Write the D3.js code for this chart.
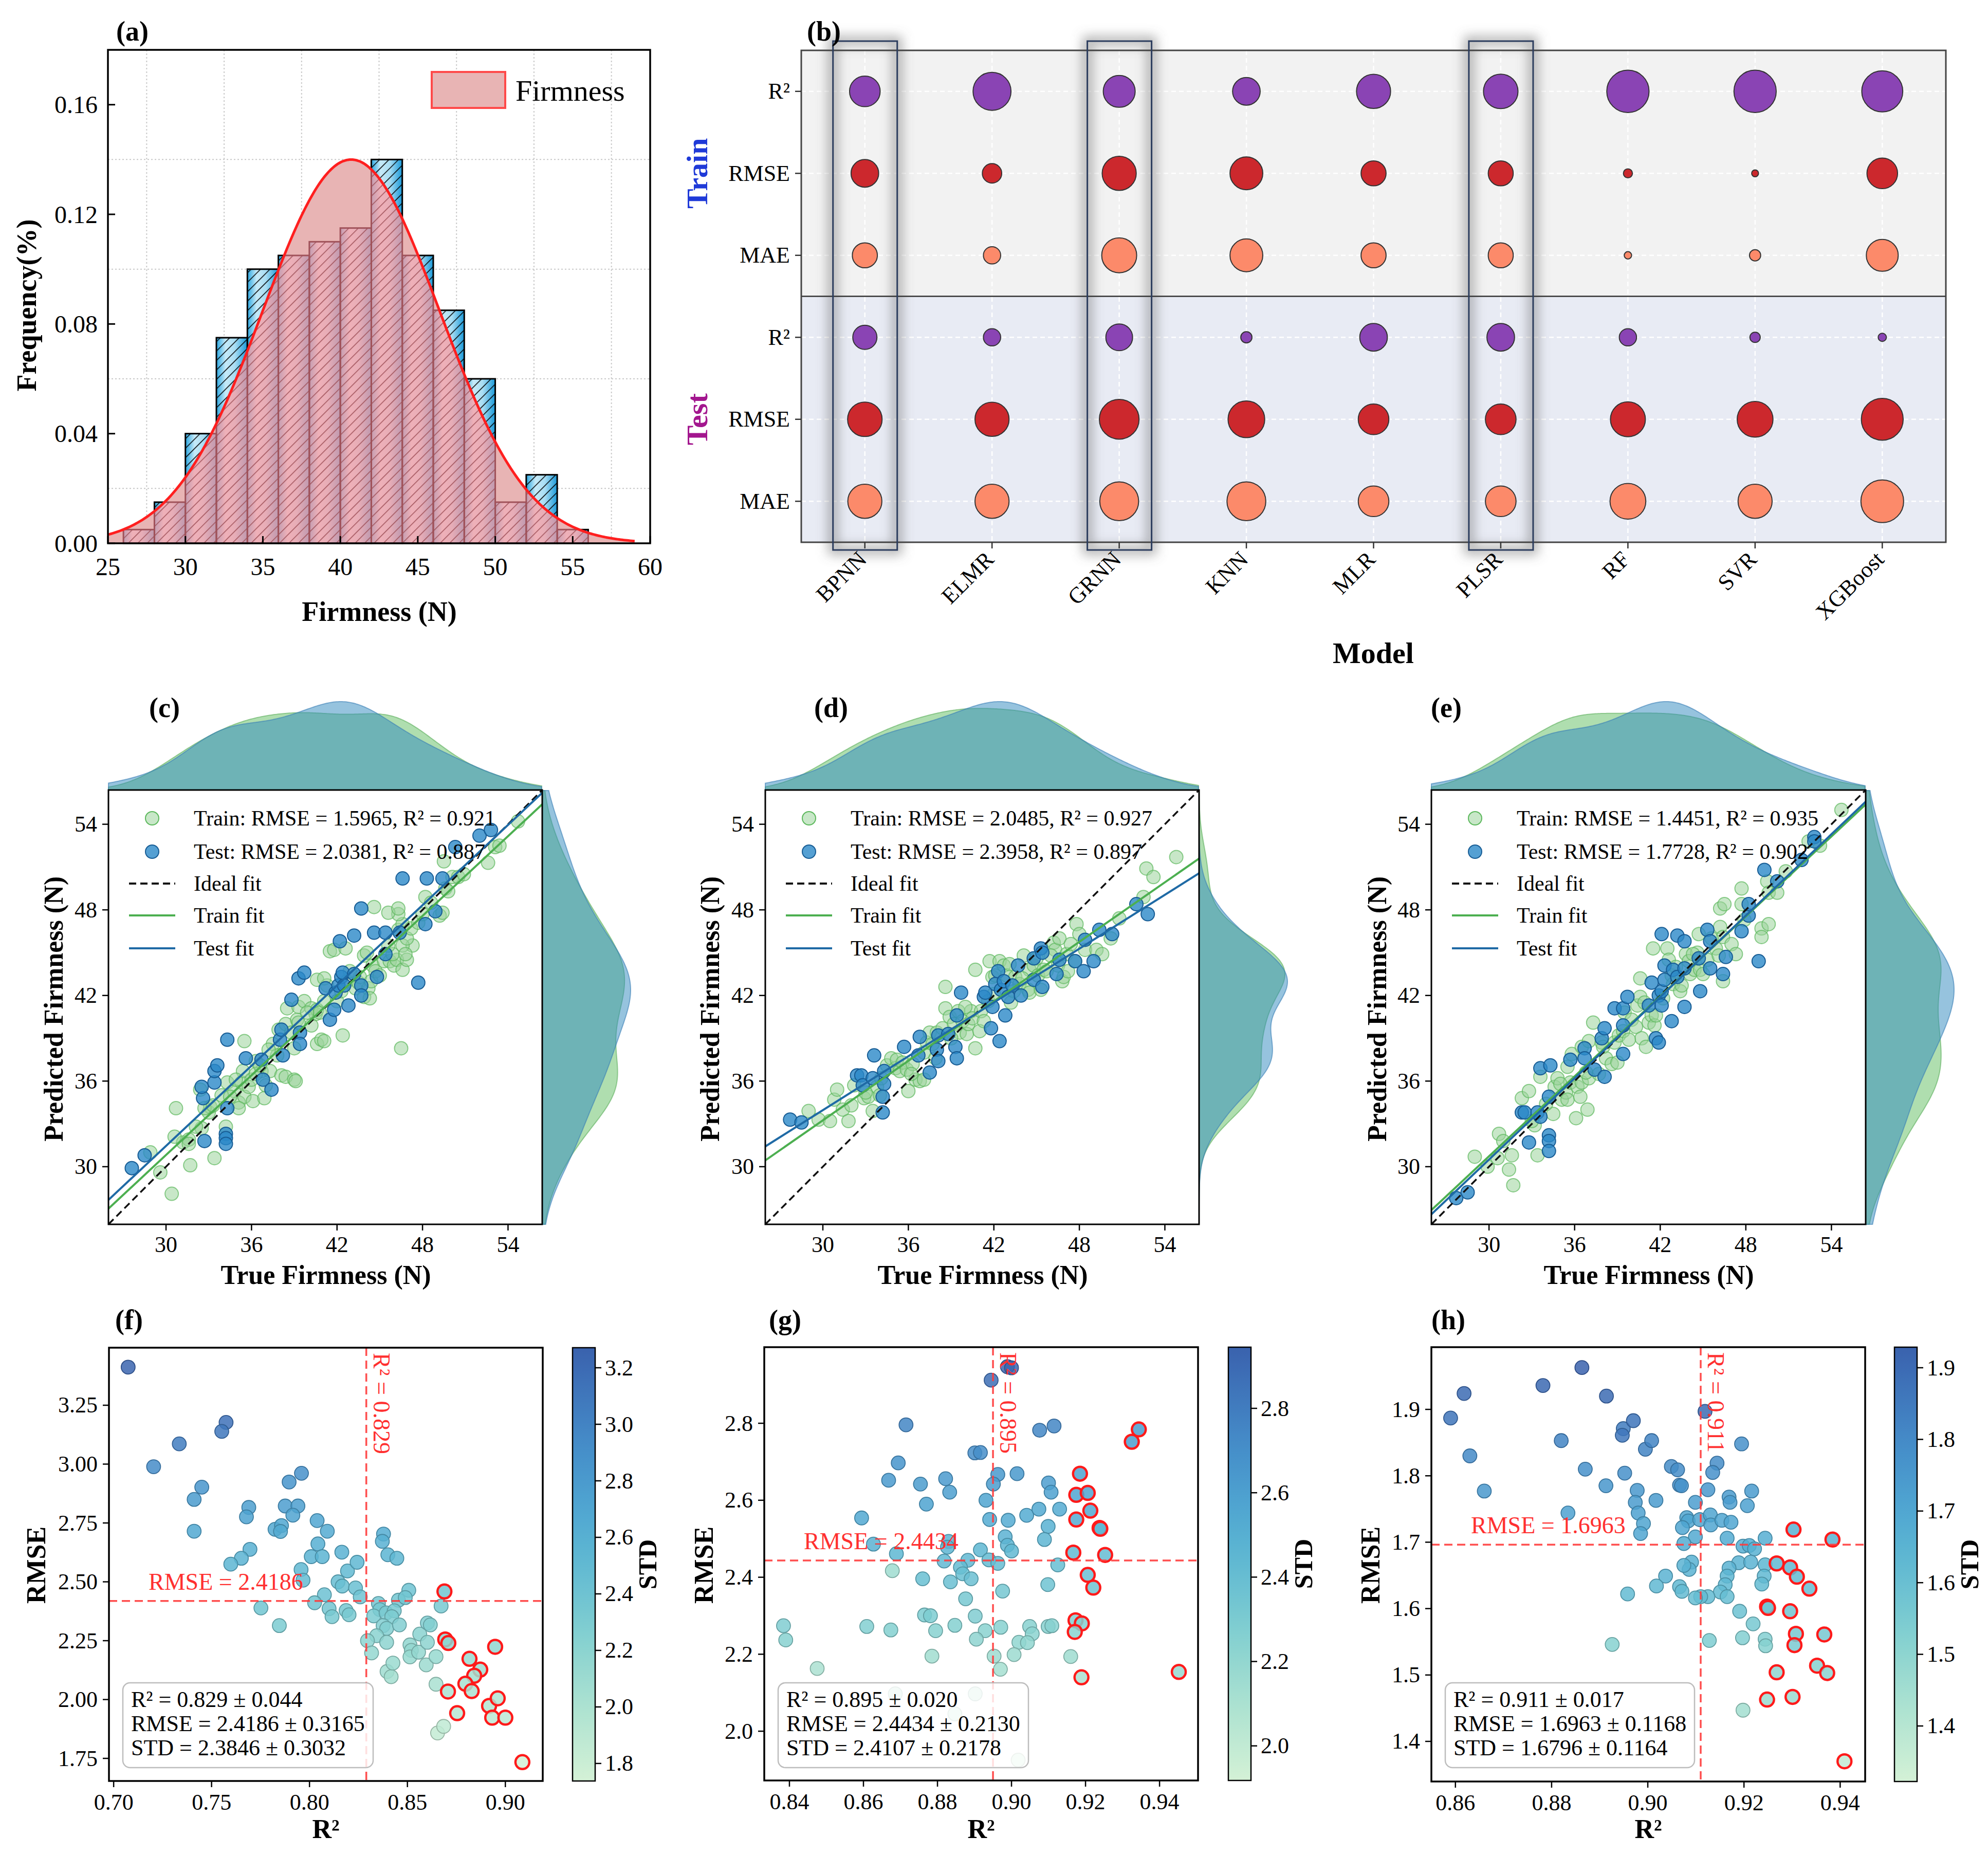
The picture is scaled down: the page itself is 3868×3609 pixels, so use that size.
<!DOCTYPE html>
<html><head><meta charset="utf-8">
<script src="https://cdn.jsdelivr.net/npm/d3@7"></script>
<style>body{margin:0;background:#fff}svg text{font-family:"Liberation Serif","Times New Roman",serif}</style>
</head><body>
<svg id="fig" width="3868" height="3609"></svg>
<script>
// ---------------- DATA ----------------
// (a) histogram
const histEdges = [26,28,30,32,34,36,38,40,42,44,46,48,50,52,54,56];
const histFreq = [0.005,0.015,0.04,0.075,0.10,0.105,0.11,0.115,0.14,0.105,0.085,0.06,0.015,0.025,0.005];
const histXTicks = [25,30,35,40,45,50,55,60];
const histYTicks = [0,0.04,0.08,0.12,0.16];
const histGridX = [27.5,32.5,37.5,42.5,47.5,52.5,57.5];
const histGridY = [0.02,0.06,0.10,0.14];
const normalFit = {mean:40.7, sd:5.7, binWidth:2};
const histLegend = "Firmness";

// (b) bubble matrix (relative bubble size 0-100)
const models = ["BPNN","ELMR","GRNN","KNN","MLR","PLSR","RF","SVR","XGBoost"];
const metricRows = ["Train R²","Train RMSE","Train MAE","Test R²","Test RMSE","Test MAE"];
const metricLabels = ["R²","RMSE","MAE","R²","RMSE","MAE"];
const trainR2Size   = [71,88,74,64,79,80,98,98,95];
const trainRMSESize = [64,45,79,76,58,58,21,16,71];
const trainMAESize  = [58,40,81,76,58,58,17,26,74];
const testR2Size    = [56,40,62,26,64,64,40,24,19];
const testRMSESize  = [80,79,92,85,71,71,81,83,97];
const testMAESize   = [79,79,90,90,71,71,83,79,99];
const highlightedModels = ["BPNN","GRNN","PLSR"];

// (c)(d)(e) true vs predicted
const jointTicks = [30,36,42,48,54];
const cTest = [[27.6,29.9],[28.5,30.8],[32.7,31.8],[32.6,34.8],[32.5,35.6],[33.4,35.9],[33.4,36.7],[33.6,37.1],[34.3,38.9],[34.3,34.1],[34.2,32.3],[34.2,32.0],[34.2,31.6],[35.6,37.6],[36.7,37.5],[36.8,36.1],[37.4,35.4],[38.2,37.8],[38.0,38.9],[38.1,39.6],[38.8,41.7],[39.3,43.2],[39.7,43.6],[39.4,39.4],[39.4,38.6],[41.5,40.3],[41.8,41.0],[41.2,42.5],[41.9,42.2],[42.1,42.7],[42.3,43.3],[42.5,42.7],[42.8,41.3],[42.4,43.6],[43.2,43.5],[43.7,42.7],[43.7,42.0],[43.2,46.2],[42.2,45.8],[43.7,48.1],[44.6,46.4],[44.8,43.3],[45.4,46.4],[45.4,44.9],[46.4,46.4],[46.6,50.2],[47.7,42.9],[48.2,47.0],[48.3,50.2],[48.9,47.9],[49.4,50.2],[50.3,52.4],[52.0,53.2],[52.8,53.6]];
const cTrain = [[30.4,28.1],[29.6,29.6],[28.9,31.0],[30.7,34.1],[31.7,30.1],[33.4,30.6],[31.2,31.7],[31.6,31.9],[32.5,32.7],[33.0,33.8],[32.4,35.4],[33.1,34.2],[34.2,32.8],[34.3,35.9],[34.8,35.3],[35.1,34.5],[35.5,34.9],[35.1,34.1],[35.3,35.9],[35.4,36.7],[35.5,38.8],[35.8,35.6],[36.1,34.6],[36.0,36.1],[36.3,37.4],[36.7,36.7],[36.9,34.8],[37.0,35.7],[37.3,36.7],[37.5,38.6],[37.8,37.8],[38.1,36.4],[38.4,36.3],[39.0,36.1],[39.1,36.0],[37.9,39.6],[38.4,40.0],[39.0,38.3],[38.8,39.4],[39.2,40.3],[38.5,41.1],[39.3,41.2],[39.7,41.6],[40.2,41.1],[40.5,40.7],[40.6,41.0],[40.8,40.8],[40.2,39.9],[40.6,38.6],[40.9,38.9],[41.1,38.8],[40.6,43.1],[41.3,42.7],[41.1,41.6],[42.0,41.6],[41.5,45.1],[41.8,45.2],[42.6,45.3],[42.4,39.2],[42.7,43.0],[43.3,42.5],[43.5,42.9],[43.6,43.3],[43.9,41.9],[44.2,42.5],[44.3,41.8],[44.4,43.0],[43.9,44.8],[44.1,45.0],[44.5,44.1],[44.7,43.7],[45.3,44.4],[45.7,44.4],[46.0,44.1],[46.2,44.5],[46.6,43.8],[46.9,44.5],[47.3,45.5],[46.6,45.5],[45.9,44.9],[46.3,46.6],[46.6,47.0],[46.9,46.0],[47.2,46.7],[46.3,47.7],[45.6,47.8],[44.6,48.2],[46.3,48.1],[46.5,38.3],[47.7,47.1],[48.0,47.7],[48.2,48.9],[48.6,48.5],[49.2,47.6],[49.4,47.8],[49.6,49.5],[49.8,49.3],[50.1,50.3],[50.5,50.3],[50.9,50.5],[49.5,51.4],[52.6,51.3],[53.1,52.4],[53.4,52.5],[54.7,54.2],[30.6,32.1],[31.6,31.6],[32.1,32.8],[32.7,34.1],[33.3,34.3],[33.9,35.0],[34.5,34.9],[34.9,36.1],[36.3,36.5],[36.6,37.1],[37.2,38.2],[39.3,40.1],[39.9,40.8],[42.9,43.7],[41.1,43.2],[42.3,42.3],[45.0,43.4],[45.6,45.5],[46.8,44.9]];
const cTrainFit = [0.931, 2.89];
const cTestFit = [0.9375, 3.33];
const cLegend = ["Train: RMSE = 1.5965, R² = 0.921","Test: RMSE = 2.0381, R² = 0.887","Ideal fit","Train fit","Test fit"];

const dTest = [[27.7,33.3],[28.5,33.1],[32.4,36.4],[32.7,36.4],[32.8,35.7],[33.5,36.2],[33.6,37.8],[34.3,36.7],[34.3,35.8],[34.2,34.9],[34.2,33.8],[35.7,38.4],[36.7,37.8],[36.8,39.1],[37.5,36.6],[38.0,38.2],[38.1,37.4],[38.1,39.2],[38.8,39.3],[39.3,38.4],[39.4,37.6],[39.4,40.6],[39.7,42.2],[41.3,41.9],[41.4,42.2],[41.8,39.7],[41.9,41.2],[42.1,42.8],[42.3,43.7],[42.4,38.8],[42.5,42.4],[42.7,43.0],[42.8,40.6],[43.0,41.9],[43.3,42.7],[43.7,44.1],[43.9,42.0],[44.8,44.6],[44.8,43.1],[45.3,45.3],[45.4,45.0],[45.4,42.6],[46.4,43.5],[46.6,44.5],[47.7,44.4],[48.3,43.7],[48.4,45.9],[49.0,44.4],[49.4,46.6],[50.3,46.3],[52.0,48.4],[52.8,47.7]];
const dTrain = [[29.0,33.9],[29.7,33.3],[30.5,33.2],[30.8,34.7],[31.0,35.4],[31.4,34.0],[31.8,33.2],[32.0,34.3],[32.2,35.7],[32.9,34.8],[33.2,34.9],[33.5,33.9],[33.8,35.6],[34.1,36.2],[34.5,37.1],[34.8,37.6],[35.1,36.9],[35.2,37.5],[35.4,36.7],[35.6,37.3],[35.9,36.8],[36.0,35.3],[36.3,37.2],[36.5,36.1],[36.8,36.0],[37.1,36.1],[37.1,38.0],[37.3,38.7],[37.5,39.4],[37.7,38.6],[38.0,39.4],[38.4,39.7],[38.6,42.6],[38.6,41.1],[38.9,40.5],[39.2,40.0],[39.5,40.9],[39.6,39.4],[39.8,40.2],[40.1,39.3],[40.2,40.0],[40.4,40.9],[40.5,40.4],[40.7,38.3],[40.7,43.8],[41.0,39.5],[41.1,40.9],[41.6,41.6],[41.7,44.4],[41.9,43.3],[42.1,43.4],[42.4,44.4],[42.7,44.1],[42.9,43.4],[43.1,44.2],[43.2,41.5],[43.5,43.3],[43.8,42.8],[44.1,44.8],[44.4,42.4],[44.5,43.8],[44.5,42.2],[44.8,44.1],[45.1,43.4],[45.3,42.4],[45.5,43.8],[45.7,43.7],[46.2,45.7],[46.3,45.2],[46.5,44.1],[46.6,46.0],[46.8,43.0],[46.9,43.3],[47.1,44.9],[47.2,43.7],[47.7,44.4],[47.8,47.0],[48.0,46.3],[48.4,45.2],[49.2,45.2],[49.6,44.9],[50.2,46.0],[50.8,47.4],[52.5,48.9],[52.7,50.9],[53.2,50.3],[54.8,51.7],[33.0,35.2],[34.0,35.0],[36.2,36.5],[37.9,37.6],[39.0,39.0],[40.0,41.2],[41.3,40.2],[42.0,42.1],[43.4,42.3],[44.0,43.2],[45.0,44.6],[46.0,44.8],[47.4,45.6]];
const dTrainFit = [0.695, 12.4];
const dTestFit = [0.629, 15.09];
const dLegend = ["Train: RMSE = 2.0485, R² = 0.927","Test: RMSE = 2.3958, R² = 0.897","Ideal fit","Train fit","Test fit"];

const eTest = [[27.7,27.8],[28.5,28.2],[32.3,33.8],[32.5,33.8],[32.8,31.7],[33.4,33.8],[33.6,33.5],[33.6,36.9],[34.3,37.1],[34.2,34.9],[34.2,32.2],[34.2,31.8],[34.2,31.1],[35.7,37.5],[36.7,38.3],[36.7,37.6],[37.4,36.8],[38.1,36.3],[37.9,39.0],[38.1,39.7],[38.8,41.1],[39.4,41.1],[39.4,39.9],[39.4,37.9],[39.7,41.9],[41.2,41.3],[41.4,42.9],[41.7,39.0],[41.9,38.7],[41.9,42.0],[42.1,42.3],[42.1,41.3],[42.3,43.1],[42.3,44.1],[42.8,40.2],[42.9,43.8],[43.2,43.3],[43.7,43.9],[43.7,41.2],[42.1,46.3],[43.2,46.2],[43.7,45.8],[44.7,44.6],[44.8,42.3],[45.3,46.6],[45.5,45.8],[45.5,43.9],[46.4,43.5],[46.6,44.7],[47.7,46.5],[48.2,47.6],[48.2,48.4],[48.9,44.4],[49.3,50.8],[50.2,50.0],[51.9,51.5],[52.8,53.1],[52.8,52.8]];
const eTrain = [[29.0,30.7],[29.9,30.0],[30.6,30.6],[30.7,32.3],[31.0,31.8],[31.4,29.8],[31.6,30.8],[31.7,28.7],[32.3,34.8],[32.8,35.3],[33.4,30.8],[33.2,32.9],[33.6,36.3],[34.5,33.7],[34.6,35.6],[34.8,36.2],[35.1,34.7],[35.4,35.2],[35.5,34.7],[35.5,37.0],[35.7,35.9],[35.8,37.9],[36.1,33.4],[36.2,35.6],[36.4,34.9],[36.5,38.4],[36.5,35.9],[36.9,34.0],[37.0,38.8],[37.0,36.2],[37.3,40.1],[37.7,36.5],[37.9,38.7],[38.2,37.6],[38.6,37.2],[38.8,38.7],[39.0,37.3],[39.1,39.2],[39.4,39.5],[39.5,40.8],[40.0,40.3],[40.3,39.8],[40.4,41.3],[40.6,41.9],[40.6,43.2],[40.7,39.0],[41.0,38.4],[41.2,40.1],[41.4,40.6],[41.6,39.9],[41.7,40.6],[41.5,45.3],[42.5,45.3],[42.6,44.5],[42.8,43.4],[42.9,42.8],[43.4,42.3],[43.5,42.7],[43.8,44.9],[44.0,44.4],[44.1,43.5],[44.4,43.8],[44.6,45.0],[44.7,46.3],[44.8,43.8],[45.0,43.5],[45.3,44.5],[45.9,45.3],[46.1,44.8],[46.2,46.8],[46.4,46.1],[46.4,43.0],[46.2,48.1],[46.5,48.4],[47.0,45.6],[47.3,44.9],[47.7,49.5],[47.7,48.4],[49.1,46.7],[49.1,46.1],[49.6,47.0],[49.5,50.0],[49.6,49.2],[50.2,49.2],[50.8,50.7],[52.4,52.8],[53.2,52.5],[54.7,55.0],[33.0,33.2],[34.0,34.4],[35.0,35.8],[36.8,36.6],[38.0,38.4],[39.8,38.9],[40.9,41.5],[42.2,41.8],[43.1,44.0],[44.3,44.9],[45.6,46.0],[47.9,47.3]];
const eTrainFit = [0.934, 2.71];
const eTestFit = [0.95, 2.0];
const eLegend = ["Train: RMSE = 1.4451, R² = 0.935","Test: RMSE = 1.7728, R² = 0.902","Ideal fit","Train fit","Test fit"];

// (f)(g)(h) repeated-split results: [R², RMSE, STD, highlighted]
const fRuns = [[0.7074,3.412,3.25,0],[0.7574,3.177,3.15,0],[0.7552,3.139,3.10,0],[0.7335,3.086,3.05,0],[0.7204,2.989,2.93,0],[0.7450,2.902,2.85,0],[0.7411,2.850,2.80,0],[0.7411,2.715,2.68,0],[0.7959,2.961,2.88,0],[0.7896,2.924,2.86,0],[0.7876,2.822,2.77,0],[0.7941,2.822,2.76,0],[0.7690,2.816,2.76,0],[0.7678,2.776,2.73,0],[0.7915,2.783,2.72,0],[0.7824,2.723,2.68,0],[0.7857,2.739,2.69,0],[0.7852,2.714,2.66,0],[0.8039,2.760,2.70,0],[0.8091,2.715,2.66,0],[0.7696,2.638,2.60,0],[0.7652,2.600,2.57,0],[0.7598,2.575,2.55,0],[0.8043,2.661,2.61,0],[0.8009,2.607,2.57,0],[0.8065,2.607,2.56,0],[0.7957,2.552,2.52,0],[0.7967,2.507,2.48,0],[0.8165,2.626,2.58,0],[0.8194,2.546,2.50,0],[0.8243,2.583,2.53,0],[0.8146,2.500,2.46,0],[0.8167,2.482,2.44,0],[0.8235,2.474,2.43,0],[0.8259,2.436,2.40,0],[0.8076,2.445,2.42,0],[0.8026,2.411,2.39,0],[0.7752,2.389,2.38,0],[0.7846,2.314,2.31,0],[0.8100,2.386,2.36,0],[0.8115,2.352,2.33,0],[0.8187,2.378,2.35,0],[0.8202,2.360,2.33,0],[0.8378,2.703,2.63,0],[0.8372,2.672,2.60,0],[0.8400,2.615,2.55,0],[0.8446,2.600,2.53,0],[0.8507,2.464,2.40,0],[0.8454,2.422,2.37,0],[0.8489,2.433,2.38,0],[0.8352,2.408,2.36,0],[0.8359,2.382,2.34,0],[0.8328,2.355,2.31,0],[0.8391,2.368,2.32,0],[0.8433,2.377,2.33,0],[0.8420,2.352,2.30,0],[0.8376,2.314,2.27,0],[0.8394,2.302,2.26,0],[0.8459,2.317,2.27,0],[0.8343,2.271,2.22,0],[0.8296,2.250,2.20,0],[0.8317,2.198,2.15,0],[0.8394,2.243,2.19,0],[0.8396,2.119,2.08,0],[0.8417,2.097,2.06,0],[0.8426,2.155,2.11,0],[0.8513,2.232,2.17,0],[0.8520,2.209,2.15,0],[0.8513,2.181,2.13,0],[0.8557,2.201,2.15,0],[0.8563,2.278,2.22,0],[0.8602,2.325,2.27,0],[0.8617,2.317,2.26,0],[0.8602,2.243,2.19,0],[0.8596,2.147,2.10,0],[0.8646,2.182,2.13,0],[0.8672,2.397,2.33,0],[0.8646,2.065,2.02,0],[0.8654,1.858,1.85,0],[0.8685,1.886,1.87,0],[0.8689,2.459,2.38,1],[0.8693,2.255,2.20,1],[0.8709,2.240,2.19,1],[0.8707,2.034,2.00,1],[0.8754,1.942,1.93,1],[0.8817,2.173,2.12,1],[0.8872,2.127,2.08,1],[0.8841,2.101,2.06,1],[0.8796,2.067,2.03,1],[0.8828,2.036,2.00,1],[0.8948,2.224,2.17,1],[0.8917,1.973,1.95,1],[0.8961,2.005,1.97,1],[0.8933,1.923,1.90,1],[0.9000,1.923,1.90,1],[0.9087,1.734,1.76,1]];
const gRuns = [[0.8945,2.912,2.88,0],[0.8989,2.947,2.92,0],[0.9000,2.944,2.93,0],[0.8715,2.796,2.75,0],[0.9076,2.782,2.74,0],[0.9115,2.793,2.75,0],[0.8694,2.697,2.67,0],[0.8668,2.652,2.63,0],[0.8754,2.642,2.62,0],[0.8770,2.590,2.58,0],[0.8822,2.656,2.63,0],[0.8833,2.621,2.60,0],[0.8901,2.723,2.70,0],[0.8916,2.724,2.70,0],[0.8963,2.667,2.64,0],[0.8951,2.642,2.62,0],[0.9015,2.669,2.64,0],[0.8931,2.600,2.57,0],[0.8941,2.550,2.53,0],[0.8991,2.548,2.52,0],[0.9041,2.561,2.53,0],[0.9074,2.577,2.54,0],[0.9100,2.645,2.61,0],[0.9107,2.621,2.59,0],[0.9130,2.577,2.52,0],[0.9099,2.532,2.49,0],[0.9089,2.498,2.46,0],[0.8595,2.554,2.55,0],[0.8627,2.486,2.48,0],[0.8689,2.461,2.45,0],[0.8830,2.493,2.47,0],[0.8827,2.478,2.46,0],[0.8916,2.471,2.45,0],[0.8983,2.505,2.48,0],[0.8989,2.483,2.46,0],[0.9000,2.468,2.44,0],[0.8818,2.442,2.43,0],[0.8882,2.444,2.43,0],[0.8939,2.445,2.42,0],[0.8963,2.436,2.41,0],[0.8862,2.426,2.41,0],[0.8868,2.409,2.39,0],[0.8891,2.396,2.38,0],[0.8835,2.388,2.38,0],[0.8760,2.396,2.39,0],[0.8678,2.417,2.15,0],[0.9125,2.432,2.40,0],[0.9098,2.381,2.36,0],[0.8976,2.364,2.33,0],[0.8876,2.344,2.32,0],[0.8765,2.302,2.29,0],[0.8781,2.300,2.29,0],[0.8902,2.299,2.28,0],[0.8384,2.274,2.28,0],[0.8390,2.237,2.25,0],[0.8609,2.272,2.27,0],[0.8674,2.263,2.26,0],[0.8795,2.261,2.25,0],[0.8847,2.275,2.26,0],[0.8929,2.261,2.24,0],[0.8905,2.239,2.22,0],[0.8971,2.270,2.25,0],[0.9049,2.272,2.25,0],[0.9056,2.253,2.23,0],[0.9020,2.231,2.21,0],[0.9043,2.230,2.21,0],[0.9099,2.272,2.25,0],[0.9109,2.274,2.25,0],[0.8475,2.163,2.10,0],[0.8785,2.195,2.14,0],[0.8953,2.195,2.15,0],[0.9007,2.199,2.16,0],[0.8970,2.161,2.12,0],[0.9160,2.194,2.15,0],[0.9344,2.784,2.62,1],[0.9325,2.752,2.60,1],[0.9185,2.669,2.58,1],[0.9175,2.614,2.56,1],[0.9206,2.619,2.57,1],[0.9213,2.573,2.54,1],[0.9175,2.550,2.52,1],[0.9238,2.528,2.46,1],[0.9240,2.526,2.45,1],[0.9167,2.464,2.42,1],[0.9253,2.458,2.41,1],[0.9206,2.406,2.38,1],[0.9221,2.373,2.35,1],[0.9173,2.288,2.27,1],[0.9190,2.280,2.26,1],[0.9171,2.258,2.24,1],[0.9189,2.140,2.10,1],[0.9452,2.154,2.18,1],[0.8686,2.097,2.05,0],[0.8902,2.097,2.06,0],[0.8847,2.045,2.02,0],[0.9018,1.925,1.95,0]];
const hRuns = [[0.8590,1.887,1.87,0],[0.8618,1.924,1.90,0],[0.8630,1.830,1.80,0],[0.8660,1.777,1.75,0],[0.8782,1.936,1.91,0],[0.8863,1.963,1.93,0],[0.8914,1.920,1.90,0],[0.8820,1.853,1.82,0],[0.8870,1.810,1.78,0],[0.8913,1.785,1.76,0],[0.8834,1.744,1.72,0],[0.8949,1.871,1.85,0],[0.8947,1.861,1.86,0],[0.8970,1.883,1.87,0],[0.8995,1.840,1.82,0],[0.9008,1.853,1.82,0],[0.8952,1.804,1.78,0],[0.8978,1.778,1.75,0],[0.8974,1.760,1.74,0],[0.8980,1.744,1.72,0],[0.8991,1.728,1.71,0],[0.8985,1.713,1.70,0],[0.9017,1.763,1.74,0],[0.9049,1.814,1.79,0],[0.9062,1.809,1.79,0],[0.9066,1.786,1.78,0],[0.9070,1.785,1.77,0],[0.9119,1.897,1.90,0],[0.9195,1.848,1.78,0],[0.9144,1.819,1.79,0],[0.9135,1.805,1.78,0],[0.9125,1.779,1.75,0],[0.9099,1.760,1.73,0],[0.9169,1.768,1.74,0],[0.9171,1.760,1.73,0],[0.9216,1.777,1.74,0],[0.9207,1.755,1.72,0],[0.9081,1.737,1.71,0],[0.9084,1.732,1.71,0],[0.9072,1.722,1.70,0],[0.9108,1.734,1.71,0],[0.9130,1.741,1.71,0],[0.9131,1.726,1.70,0],[0.9154,1.733,1.70,0],[0.9173,1.730,1.70,0],[0.9099,1.708,1.69,0],[0.9075,1.698,1.68,0],[0.9165,1.706,1.68,0],[0.9198,1.694,1.67,0],[0.9211,1.695,1.67,0],[0.9222,1.690,1.66,0],[0.9244,1.706,1.67,0],[0.9189,1.669,1.65,0],[0.9214,1.670,1.65,0],[0.9244,1.666,1.64,0],[0.9242,1.649,1.63,0],[0.9237,1.637,1.62,0],[0.9169,1.661,1.65,0],[0.9165,1.649,1.64,0],[0.9161,1.636,1.63,0],[0.9151,1.625,1.62,0],[0.9165,1.618,1.61,0],[0.9125,1.618,1.62,0],[0.9110,1.618,1.62,0],[0.9099,1.616,1.61,0],[0.9091,1.670,1.66,0],[0.9086,1.659,1.65,0],[0.9075,1.665,1.65,0],[0.9066,1.633,1.63,0],[0.9071,1.626,1.62,0],[0.9037,1.649,1.65,0],[0.9018,1.634,1.63,0],[0.8958,1.622,1.62,0],[0.9191,1.596,1.59,0],[0.9219,1.577,1.56,0],[0.9128,1.552,1.54,0],[0.9197,1.556,1.53,0],[0.9244,1.554,1.53,0],[0.9245,1.544,1.52,0],[0.8926,1.546,1.52,0],[0.9198,1.447,1.45,0],[0.9303,1.719,1.66,1],[0.9384,1.704,1.65,1],[0.9268,1.668,1.63,1],[0.9296,1.662,1.63,1],[0.9310,1.648,1.62,1],[0.9336,1.630,1.61,1],[0.9248,1.603,1.58,1],[0.9250,1.601,1.58,1],[0.9296,1.596,1.58,1],[0.9308,1.562,1.56,1],[0.9367,1.561,1.56,1],[0.9305,1.545,1.55,1],[0.9352,1.514,1.52,1],[0.9373,1.503,1.51,1],[0.9268,1.504,1.50,1],[0.9248,1.463,1.47,1],[0.9301,1.467,1.47,1],[0.9409,1.370,1.37,1]];
const fMeans = [0.829, 2.4186];
const gMeans = [0.895, 2.4434];
const hMeans = [0.911, 1.6963];
const fStats = ["R² = 0.829 ± 0.044","RMSE = 2.4186 ± 0.3165","STD = 2.3846 ± 0.3032"];
const gStats = ["R² = 0.895 ± 0.020","RMSE = 2.4434 ± 0.2130","STD = 2.4107 ± 0.2178"];
const hStats = ["R² = 0.911 ± 0.017","RMSE = 1.6963 ± 0.1168","STD = 1.6796 ± 0.1164"];
const fXTicks=[0.70,0.75,0.80,0.85,0.90], fYTicks=[1.75,2.00,2.25,2.50,2.75,3.00,3.25], fCbTicks=[1.8,2.0,2.2,2.4,2.6,2.8,3.0,3.2];
const gXTicks=[0.84,0.86,0.88,0.90,0.92,0.94], gYTicks=[2.0,2.2,2.4,2.6,2.8], gCbTicks=[2.0,2.2,2.4,2.6,2.8];
const hXTicks=[0.86,0.88,0.90,0.92,0.94], hYTicks=[1.4,1.5,1.6,1.7,1.8,1.9], hCbTicks=[1.4,1.5,1.6,1.7,1.8,1.9];

// ---------------- DRAW ----------------
const svg = d3.select("#fig");
svg.append("rect").attr("width",3868).attr("height",3609).attr("fill","#fff");
const defs = svg.append("defs");

function text(g, x, y, s, size, o={}) {
  const t = g.append("text").attr("x",x).attr("y",y).text(s).attr("font-size",size)
    .attr("fill",o.fill||"#000").attr("text-anchor",o.anchor||"start");
  if (o.bold) t.attr("font-weight","bold");
  if (o.db) t.attr("dominant-baseline",o.db);
  if (o.rot!==undefined) t.attr("transform",`rotate(${o.rot},${x},${y})`);
  return t;
}

// ===== (a) =====
(function(){
  const L={x0:210,x1:1265,y0:97,y1:1057};
  const x=d3.scaleLinear().domain([25,60]).range([L.x0,L.x1]);
  const y=d3.scaleLinear().domain([0,0.18]).range([L.y1,L.y0]);
  const g=svg.append("g");
  const grad=defs.append("linearGradient").attr("id","barGrad").attr("x1",0).attr("x2",1).attr("y1",0).attr("y2",0);
  [["0","#2aa6e0"],["0.3","#c6eaf8"],["0.6","#a8ddf3"],["1","#1898d8"]].forEach(([o,c])=>grad.append("stop").attr("offset",o).attr("stop-color",c));
  const mkHatch=(id,c)=>{const p=defs.append("pattern").attr("id",id).attr("patternUnits","userSpaceOnUse")
    .attr("width",13).attr("height",13).attr("patternTransform","rotate(45)");
    p.append("line").attr("x1",0).attr("y1",0).attr("x2",0).attr("y2",13).attr("stroke",c).attr("stroke-width",3);};
  mkHatch("hatchA","#000"); mkHatch("hatchB","#a0525a");
  g.append("g").selectAll("line").data(histGridX).join("line")
    .attr("x1",d=>x(d)).attr("x2",d=>x(d)).attr("y1",L.y0).attr("y2",L.y1)
    .attr("stroke","#c8c8c8").attr("stroke-width",2).attr("stroke-dasharray","3,4");
  g.append("g").selectAll("line").data(histGridY).join("line")
    .attr("y1",d=>y(d)).attr("y2",d=>y(d)).attr("x1",L.x0).attr("x2",L.x1)
    .attr("stroke","#c8c8c8").attr("stroke-width",2).attr("stroke-dasharray","3,4");
  const bx=(d,i)=>x(histEdges[i]), bw=(d,i)=>x(histEdges[i+1])-x(histEdges[i]);
  const drawBars=(sel,cls,fill)=>sel.selectAll("rect."+cls).data(histFreq).join("rect").attr("class",cls)
    .attr("x",bx).attr("width",bw).attr("y",d=>y(d)).attr("height",d=>y(0)-y(d)).attr("fill",fill);
  const bars=g.append("g");
  drawBars(bars,"f","url(#barGrad)");
  drawBars(bars,"h","url(#hatchA)").attr("stroke","#000").attr("stroke-width",3);
  const pdf=v=>normalFit.binWidth*Math.exp(-0.5*((v-normalFit.mean)/normalFit.sd)**2)/(normalFit.sd*Math.sqrt(2*Math.PI));
  const xs=d3.range(25,59.01,0.1);
  const areaGen=d3.area().x(d=>x(d)).y0(y(0)).y1(d=>y(pdf(d)));
  defs.append("clipPath").attr("id","curveClip").append("path").datum(xs).attr("d",areaGen);
  const ov=g.append("g").attr("clip-path","url(#curveClip)");
  ov.append("path").datum(xs).attr("d",areaGen).attr("fill","#e8b4b4");
  drawBars(ov,"f2","url(#barGrad)");
  drawBars(ov,"p2","#ff9aa0").attr("fill-opacity",0.72);
  drawBars(ov,"h2","url(#hatchB)").attr("stroke","#a0525a").attr("stroke-width",3);
  g.append("path").datum(xs).attr("d",d3.line().x(d=>x(d)).y(d=>y(pdf(d))))
    .attr("fill","none").attr("stroke","#ff1f1f").attr("stroke-width",5);
  g.append("rect").attr("x",L.x0).attr("y",L.y0).attr("width",L.x1-L.x0).attr("height",L.y1-L.y0)
    .attr("fill","none").attr("stroke","#000").attr("stroke-width",3.5);
  histXTicks.forEach(v=>{
    g.append("line").attr("x1",x(v)).attr("x2",x(v)).attr("y1",L.y1).attr("y2",L.y1-14).attr("stroke","#000").attr("stroke-width",3);
    text(g,x(v),L.y1+62,v,48,{anchor:"middle"});
  });
  histYTicks.forEach(v=>{
    g.append("line").attr("x1",L.x0).attr("x2",L.x0+14).attr("y1",y(v)).attr("y2",y(v)).attr("stroke","#000").attr("stroke-width",3);
    text(g,L.x0-20,y(v),v.toFixed(2),48,{anchor:"end",db:"central"});
  });
  g.append("rect").attr("x",840).attr("y",140).attr("width",143).attr("height",70)
    .attr("fill","#e8b4b4").attr("stroke","#ff4a4a").attr("stroke-width",4);
  text(g,1003,196,histLegend,58);
  text(g,738,1208,"Firmness (N)",54,{anchor:"middle",bold:true});
  text(g,52,594,"Frequency(%)",54,{anchor:"middle",bold:true,db:"central",rot:-90});
  text(g,226,79,"(a)",54,{bold:true});
})();

// ===== (b) =====
(function(){
  const L={x0:1559,x1:3786,y0:98,y1:1055};
  const x=d3.scaleBand().domain(models).range([L.x0,L.x1]);
  const y=d3.scaleBand().domain(metricRows).range([L.y0,L.y1]);
  const cx=m=>x(m)+x.bandwidth()/2, cy=r=>y(r)+y.bandwidth()/2;
  const rS=d3.scaleLinear().domain([0,100]).range([0,42]);
  const g=svg.append("g");
  const fil=defs.append("filter").attr("id","glowB").attr("x","-60%").attr("y","-20%").attr("width","220%").attr("height","140%");
  fil.append("feGaussianBlur").attr("stdDeviation",11);
  g.append("rect").attr("x",L.x0).attr("y",L.y0).attr("width",L.x1-L.x0).attr("height",y.bandwidth()*3).attr("fill","#f2f2f2");
  g.append("rect").attr("x",L.x0).attr("y",y("Test R²")).attr("width",L.x1-L.x0).attr("height",y.bandwidth()*3).attr("fill","#e8ebf4");
  g.append("g").selectAll("line").data(metricRows).join("line")
    .attr("x1",L.x0).attr("x2",L.x1).attr("y1",d=>cy(d)).attr("y2",d=>cy(d))
    .attr("stroke","#fff").attr("stroke-width",2.5).attr("stroke-dasharray","9,6");
  g.append("g").selectAll("line").data(models).join("line")
    .attr("x1",d=>cx(d)).attr("x2",d=>cx(d)).attr("y1",L.y0).attr("y2",L.y1)
    .attr("stroke","#fff").attr("stroke-width",2.5).attr("stroke-dasharray","9,6");
  g.append("g").selectAll("rect").data(highlightedModels).join("rect")
    .attr("x",d=>cx(d)-62).attr("y",80).attr("width",125).attr("height",990)
    .attr("fill","none").attr("stroke","#6a6a6a").attr("stroke-opacity",0.55).attr("stroke-width",18).attr("filter","url(#glowB)");
  const rows=[
    {key:"Train R²",vals:trainR2Size,color:"#8a44b4"},
    {key:"Train RMSE",vals:trainRMSESize,color:"#cc282d"},
    {key:"Train MAE",vals:trainMAESize,color:"#fc8a6a"},
    {key:"Test R²",vals:testR2Size,color:"#8a44b4"},
    {key:"Test RMSE",vals:testRMSESize,color:"#cc282d"},
    {key:"Test MAE",vals:testMAESize,color:"#fc8a6a"}];
  rows.forEach(r=>{
    g.append("g").selectAll("circle").data(r.vals).join("circle")
      .attr("cx",(d,i)=>cx(models[i])).attr("cy",cy(r.key)).attr("r",d=>rS(d))
      .attr("fill",r.color).attr("stroke","#333").attr("stroke-width",2);
  });
  g.append("line").attr("x1",L.x0).attr("x2",L.x1).attr("y1",y("Test R²")).attr("y2",y("Test R²")).attr("stroke","#333").attr("stroke-width",2.5);
  g.append("rect").attr("x",L.x0).attr("y",L.y0).attr("width",L.x1-L.x0).attr("height",L.y1-L.y0)
    .attr("fill","none").attr("stroke","#444").attr("stroke-width",3);
  g.append("g").selectAll("rect").data(highlightedModels).join("rect")
    .attr("x",d=>cx(d)-62).attr("y",80).attr("width",125).attr("height",990)
    .attr("fill","none").attr("stroke","#2c3d5e").attr("stroke-width",3);
  metricRows.forEach((r,i)=>{
    g.append("line").attr("x1",L.x0-12).attr("x2",L.x0).attr("y1",cy(r)).attr("y2",cy(r)).attr("stroke","#333").attr("stroke-width",2.5);
    text(g,L.x0-22,cy(r),metricLabels[i],44,{anchor:"end",db:"central"});
  });
  models.forEach(m=>{
    g.append("line").attr("x1",cx(m)).attr("x2",cx(m)).attr("y1",L.y1).attr("y2",L.y1+12).attr("stroke","#333").attr("stroke-width",2.5);
    text(g,cx(m)+6,L.y1+36,m,44,{anchor:"end",rot:-45});
  });
  text(g,1356,cy("Train RMSE"),"Train",58,{anchor:"middle",bold:true,db:"central",rot:-90,fill:"#1f3ad8"});
  text(g,1356,cy("Test RMSE"),"Test",58,{anchor:"middle",bold:true,db:"central",rot:-90,fill:"#a3168e"});
  text(g,2672,1290,"Model",58,{anchor:"middle",bold:true});
  text(g,1570,79,"(b)",54,{bold:true});
})();

// ===== (c)(d)(e) =====
const jointDomain=[25.96,56.4];
function drawJoint(L, train, test, trainFit, testFit, legend){
  const x=d3.scaleLinear().domain(jointDomain).range([L.x0,L.x1]);
  const y=d3.scaleLinear().domain(jointDomain).range([L.y1,L.y0]);
  const g=svg.append("g");
  const grid=d3.range(jointDomain[0],jointDomain[1]+0.0001,0.1);
  const kde=vals=>{const n=vals.length,bw=d3.deviation(vals)*Math.pow(n,-0.2);
    return grid.map(t=>[t,d3.sum(vals,v=>Math.exp(-0.5*((t-v)/bw)**2))/(n*bw*Math.sqrt(2*Math.PI))]);};
  const tX=kde(train.map(d=>d[0])), sX=kde(test.map(d=>d[0]));
  const tY=kde(train.map(d=>d[1])), sY=kde(test.map(d=>d[1]));
  const hx=d3.scaleLinear().domain([0,d3.max(tX.concat(sX),d=>d[1])]).range([0,172]);
  const hy=d3.scaleLinear().domain([0,d3.max(tY.concat(sY),d=>d[1])]).range([0,172]);
  const topA=d3.area().x(d=>x(d[0])).y0(L.y0).y1(d=>L.y0-hx(d[1]));
  const rightA=d3.area().y(d=>y(d[0])).x0(L.x1).x1(d=>L.x1+hy(d[1]));
  [[tX,tY,"#5fbd5f","#5aae5a"],[sX,sY,"#2d87bd","#3a7fb5"]].forEach(([a,b,c,s])=>{
    g.append("path").datum(a).attr("d",topA).attr("fill",c).attr("fill-opacity",0.5).attr("stroke",s).attr("stroke-opacity",0.6).attr("stroke-width",2);
    g.append("path").datum(b).attr("d",rightA).attr("fill",c).attr("fill-opacity",0.5).attr("stroke",s).attr("stroke-opacity",0.6).attr("stroke-width",2);
  });
  g.append("rect").attr("x",L.x0).attr("y",L.y0).attr("width",L.x1-L.x0).attr("height",L.y1-L.y0).attr("fill","#fff");
  const clipId="clip"+L.id;
  defs.append("clipPath").attr("id",clipId).append("rect").attr("x",L.x0).attr("y",L.y0).attr("width",L.x1-L.x0).attr("height",L.y1-L.y0);
  g.append("g").selectAll("circle").data(train).join("circle")
    .attr("cx",d=>x(d[0])).attr("cy",d=>y(d[1])).attr("r",13)
    .attr("fill","#9bd49b").attr("fill-opacity",0.55).attr("stroke","#5cb85c").attr("stroke-opacity",0.7).attr("stroke-width",2);
  g.append("g").selectAll("circle").data(test).join("circle")
    .attr("cx",d=>x(d[0])).attr("cy",d=>y(d[1])).attr("r",13)
    .attr("fill","#2a88c8").attr("fill-opacity",0.8).attr("stroke","#175c94").attr("stroke-width",2);
  const lg=g.append("g").attr("clip-path",`url(#${clipId})`);
  lg.append("line").attr("x1",x(jointDomain[0])).attr("y1",y(jointDomain[0])).attr("x2",x(jointDomain[1])).attr("y2",y(jointDomain[1]))
    .attr("stroke","#111").attr("stroke-width",3.5).attr("stroke-dasharray","14,8");
  [[trainFit,"#4caf50"],[testFit,"#1f6aa5"]].forEach(([f,c])=>{
    lg.append("line").attr("x1",x(jointDomain[0])).attr("y1",y(f[0]*jointDomain[0]+f[1]))
      .attr("x2",x(jointDomain[1])).attr("y2",y(f[0]*jointDomain[1]+f[1])).attr("stroke",c).attr("stroke-width",4);
  });
  g.append("rect").attr("x",L.x0).attr("y",L.y0).attr("width",L.x1-L.x0).attr("height",L.y1-L.y0)
    .attr("fill","none").attr("stroke","#000").attr("stroke-width",3);
  const rowsY=[55,120,182,244,308];
  g.append("circle").attr("cx",L.x0+85).attr("cy",L.y0+rowsY[0]).attr("r",13).attr("fill","#9bd49b").attr("fill-opacity",0.55).attr("stroke","#5cb85c").attr("stroke-width",2);
  g.append("circle").attr("cx",L.x0+85).attr("cy",L.y0+rowsY[1]).attr("r",13).attr("fill","#2a88c8").attr("fill-opacity",0.8).attr("stroke","#175c94").attr("stroke-width",2);
  [["#111","14,8"],["#4caf50",null],["#1f6aa5",null]].forEach(([c,da],i)=>{
    const ln=g.append("line").attr("x1",L.x0+40).attr("x2",L.x0+130).attr("y1",L.y0+rowsY[i+2]).attr("y2",L.y0+rowsY[i+2]).attr("stroke",c).attr("stroke-width",4);
    if(da) ln.attr("stroke-dasharray",da);
  });
  legend.forEach((s,i)=>text(g,L.x0+166,L.y0+rowsY[i]+14,s,42));
  jointTicks.forEach(v=>{
    g.append("line").attr("x1",x(v)).attr("x2",x(v)).attr("y1",L.y1).attr("y2",L.y1+12).attr("stroke","#000").attr("stroke-width",2.5);
    text(g,x(v),L.y1+54,v,44,{anchor:"middle"});
    g.append("line").attr("x1",L.x0-12).attr("x2",L.x0).attr("y1",y(v)).attr("y2",y(v)).attr("stroke","#000").attr("stroke-width",2.5);
    text(g,L.x0-22,y(v),v,44,{anchor:"end",db:"central"});
  });
  text(g,L.xlab,2498,"True Firmness (N)",52,{anchor:"middle",bold:true});
  text(g,L.ylab,1963,"Predicted Firmness (N)",52,{anchor:"middle",bold:true,db:"central",rot:-90});
  text(g,L.tx,1395,L.title,54,{bold:true});
}
drawJoint({id:"c",x0:211,x1:1055,y0:1537,y1:2382,xlab:634,ylab:104,tx:290,title:"(c)"},cTrain,cTest,cTrainFit,cTestFit,cLegend);
drawJoint({id:"d",x0:1489,x1:2333,y0:1537,y1:2382,xlab:1912,ylab:1381,tx:1584,title:"(d)"},dTrain,dTest,dTrainFit,dTestFit,dLegend);
drawJoint({id:"e",x0:2785,x1:3630,y0:1537,y1:2382,xlab:3208,ylab:2679,tx:2784,title:"(e)"},eTrain,eTest,eTrainFit,eTestFit,eLegend);

// ===== (f)(g)(h) =====
const stdColors=["#d4f1d6","#a6e0cf","#72c8d1","#4fabd4","#4388c8","#3a62ad"];
function drawRuns(L, runs, means, stats, xTicks, yTicks, cbTicks, xf, yf){
  const x=d3.scaleLinear().domain(L.xd).range([L.x0,L.x1]);
  const y=d3.scaleLinear().domain(L.yd).range([L.y1,L.y0]);
  const col=d3.scaleSequential(d3.interpolateRgbBasis(stdColors)).domain(L.cd);
  const g=svg.append("g");
  g.append("g").selectAll("circle").data(runs).join("circle")
    .attr("cx",d=>x(d[0])).attr("cy",d=>y(d[1])).attr("r",13.5)
    .attr("fill",d=>col(d[2])).attr("fill-opacity",0.85)
    .attr("stroke",d=>d[3]?"#ff1a1a":d3.color(col(d[2])).darker(0.7))
    .attr("stroke-width",d=>d[3]?4.5:1.8);
  g.append("line").attr("x1",x(means[0])).attr("x2",x(means[0])).attr("y1",L.y0).attr("y2",L.y1)
    .attr("stroke","#ff3b3b").attr("stroke-width",3.5).attr("stroke-dasharray","16,9").attr("stroke-opacity",0.9);
  g.append("line").attr("x1",L.x0).attr("x2",L.x1).attr("y1",y(means[1])).attr("y2",y(means[1]))
    .attr("stroke","#ff3b3b").attr("stroke-width",3.5).attr("stroke-dasharray","16,9").attr("stroke-opacity",0.9);
  text(g,x(means[0])+14,L.y0+10,`R² = ${means[0].toFixed(3)}`,46,{fill:"#ff3030",rot:90});
  text(g,L.x0+77,y(means[1])-22,`RMSE = ${means[1].toFixed(4)}`,46,{fill:"#ff3030"});
  g.append("rect").attr("x",L.bx).attr("y",3274).attr("width",L.bw).attr("height",165).attr("rx",14)
    .attr("fill","#fff").attr("fill-opacity",0.82).attr("stroke","#bdbdbd").attr("stroke-width",2.5);
  stats.forEach((s,i)=>text(g,L.bx+16,3274+47+i*47,s,44));
  g.append("rect").attr("x",L.x0).attr("y",L.y0).attr("width",L.x1-L.x0).attr("height",L.y1-L.y0)
    .attr("fill","none").attr("stroke","#000").attr("stroke-width",3.5);
  xTicks.forEach(v=>{
    g.append("line").attr("x1",x(v)).attr("x2",x(v)).attr("y1",L.y1).attr("y2",L.y1+12).attr("stroke","#000").attr("stroke-width",2.5);
    text(g,x(v),L.y1+56,d3.format(xf)(v),44,{anchor:"middle"});
  });
  yTicks.forEach(v=>{
    g.append("line").attr("x1",L.x0-12).attr("x2",L.x0).attr("y1",y(v)).attr("y2",y(v)).attr("stroke","#000").attr("stroke-width",2.5);
    text(g,L.x0-22,y(v),d3.format(yf)(v),44,{anchor:"end",db:"central"});
  });
  const gid="cb"+L.id;
  const gr=defs.append("linearGradient").attr("id",gid).attr("x1",0).attr("y1",1).attr("x2",0).attr("y2",0);
  d3.range(0,1.0001,0.05).forEach(t=>gr.append("stop").attr("offset",t).attr("stop-color",col(L.cd[0]+t*(L.cd[1]-L.cd[0]))));
  const cy=d3.scaleLinear().domain(L.cd).range([L.y1,L.y0]);
  g.append("rect").attr("x",L.cx).attr("y",L.y0).attr("width",44).attr("height",L.y1-L.y0)
    .attr("fill",`url(#${gid})`).attr("stroke","#000").attr("stroke-width",2.5);
  cbTicks.forEach(v=>{
    g.append("line").attr("x1",L.cx+44).attr("x2",L.cx+56).attr("y1",cy(v)).attr("y2",cy(v)).attr("stroke","#000").attr("stroke-width",2.5);
    text(g,L.cx+63,cy(v),v.toFixed(1),44,{db:"central"});
  });
  text(g,L.cx+146,(L.y0+L.y1)/2,"STD",50,{anchor:"middle",bold:true,db:"central",rot:-90});
  text(g,L.rlab,3045,"RMSE",52,{anchor:"middle",bold:true,db:"central",rot:-90});
  text(g,(L.x0+L.x1)/2,3576,"R²",52,{anchor:"middle",bold:true});
  text(g,L.tx,2586,L.title,54,{bold:true});
}
drawRuns({id:"f",x0:212,x1:1056,y0:2622,y1:3465,xd:[0.6976,0.9191],yd:[1.654,3.4945],cd:[1.738,3.271],cx:1114,bx:239,bw:487,rlab:70,tx:224,title:"(f)"},
  fRuns,fMeans,fStats,fXTicks,fYTicks,fCbTicks,".2f",".2f");
drawRuns({id:"g",x0:1487,x1:2331,y0:2621,y1:3464,xd:[0.8332,0.9504],yd:[1.872,2.9977],cd:[1.918,2.945],cx:2390,bx:1514,bw:487,rlab:1369,tx:1496,title:"(g)"},
  gRuns,gMeans,gStats,gXTicks,gYTicks,gCbTicks,".2f",".1f");
drawRuns({id:"h",x0:2785,x1:3629,y0:2621,y1:3466,xd:[0.855,0.9452],yd:[1.3396,1.9937],cd:[1.3225,1.9287],cx:3686,bx:2812,bw:485,rlab:2666,tx:2785,title:"(h)"},
  hRuns,hMeans,hStats,hXTicks,hYTicks,hCbTicks,".2f",".1f");
</script>
</body></html>
